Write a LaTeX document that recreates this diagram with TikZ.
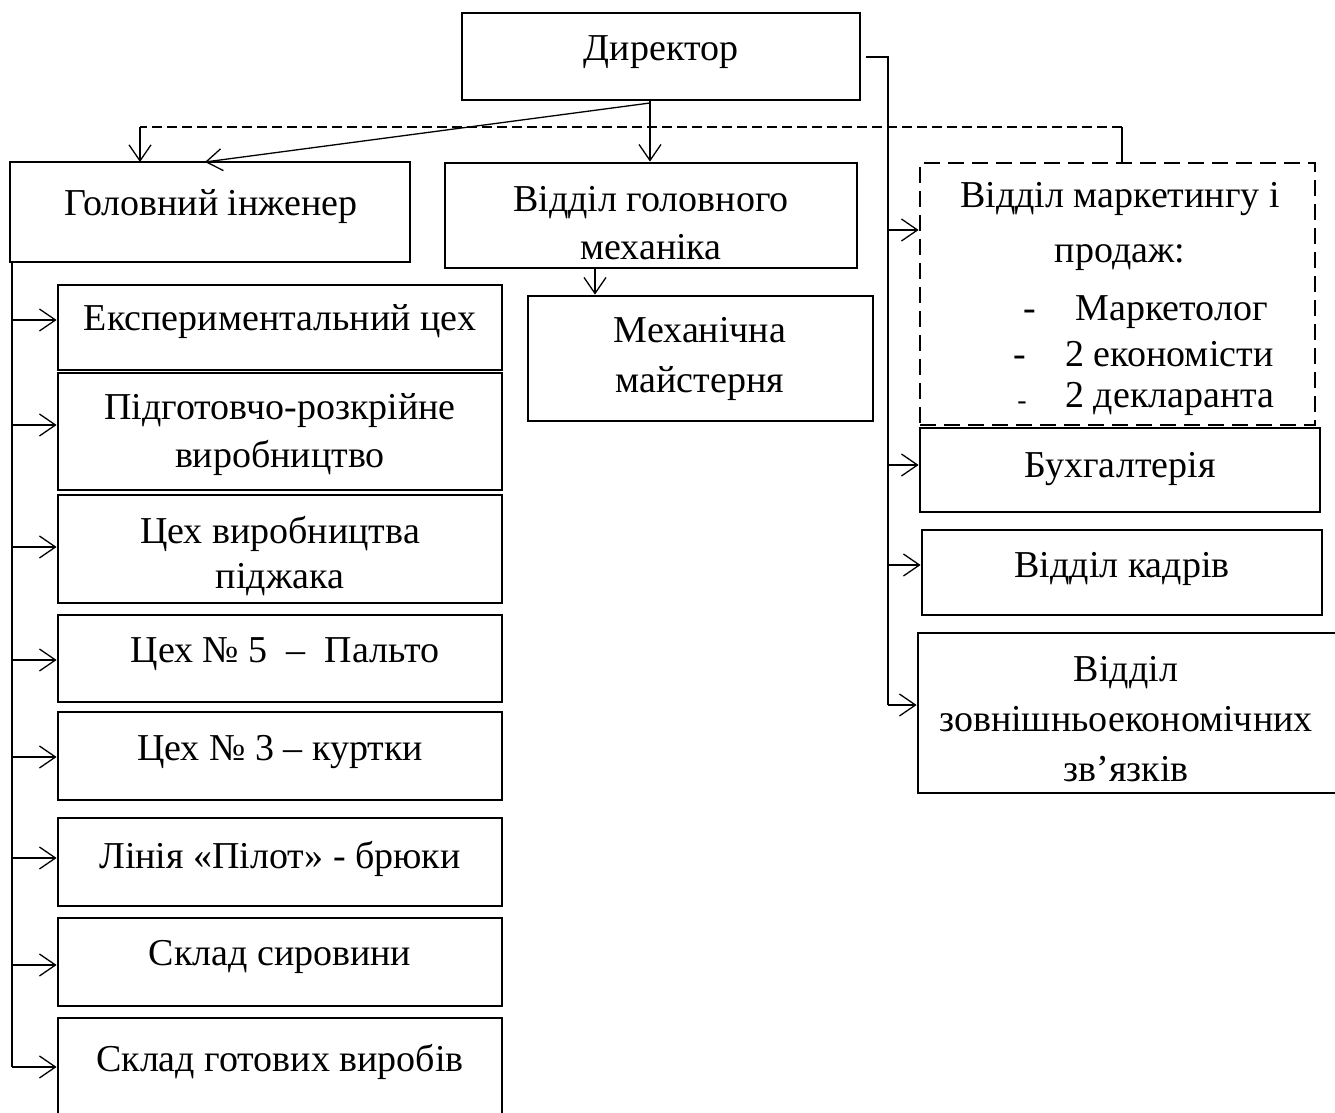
\documentclass[tikz,border=0pt]{standalone}
\usepackage{fontspec}
\setmainfont{Liberation Serif}
\usetikzlibrary{fit,arrows.meta}
\begin{document}
\begin{tikzpicture}[x=0.5pt,y=-0.5pt,
  box/.style={draw,line width=1.4pt,inner sep=0pt,fit={#1}},
  dbox/.style={draw,line width=1.4pt,dash pattern=on 8pt off 4pt,inner sep=0pt,fit={#1}},
  txt/.style={inner sep=0pt,align=center,font=\fontsize{19}{24}\selectfont},
  conn/.style={line width=0.65pt},
  arr/.style={line width=0.65pt,-{Straight Barb[length=8pt,width=11pt,line width=0.65pt]}},
  dconn/.style={line width=0.65pt,dash pattern=on 5pt off 2.5pt}]
\useasboundingbox (0,0) rectangle (1335,1113);
% boxes
\node[box={(462,13) (860,100)}] (dir) {};
\node[box={(10,162) (410,262)}] (gi) {};
\node[box={(445,163) (857,268)}] (gm) {};
\node[dbox={(920,163) (1315,425)}] (mk) {};
\node[box={(920,428) (1320,512)}] (bu) {};
\node[box={(922,530) (1322,615)}] (kd) {};
\node[box={(918,633) (1345,793)}] (zv) {};
\node[box={(528,296) (873,421)}] (mm) {};
\node[box={(58,285) (502,370)}] (l1) {};
\node[box={(58,373) (502,490)}] (l2) {};
\node[box={(58,495) (502,603)}] (l3) {};
\node[box={(58,615) (502,702)}] (l4) {};
\node[box={(58,712) (502,800)}] (l5) {};
\node[box={(58,818) (502,906)}] (l6) {};
\node[box={(58,918) (502,1006)}] (l7) {};
\node[box={(58,1018) (502,1125)}] (l8) {};
% texts
\node[txt] (tdir) at (661,52) {Директор};
\node[txt] (tgi) at (211,207) {Головний інженер};
\node[txt] (tgm) at (651,223) {Відділ головного\\механіка};
\node[txt,font=\fontsize{19}{27.5}\selectfont] (tmk) at (1120,226) {Відділ маркетингу і\\продаж:};
\node[txt,anchor=base] (mkd1) at (1030,321) {-};
\node[txt,anchor=base west] (mki1) at (1075,321) {Маркетолог};
\node[txt,anchor=base] (mkd2) at (1020,366) {-};
\node[txt,anchor=base west] (mki2) at (1065,366) {2 економісти};
\node[txt,anchor=base,font=\fontsize{14}{16}\selectfont] (mkd3) at (1022,409) {-};
\node[txt,anchor=base west] (mki3) at (1065,408) {2 декларанта};
\node[txt,font=\fontsize{19}{25}\selectfont] (tmm) at (700,359) {Механічна\\майстерня};
\node[txt] (tbu) at (1120,469) {Бухгалтерія};
\node[txt] (tkd) at (1122,569) {Відділ кадрів};
\node[txt,font=\fontsize{19}{25}\selectfont] (tzv) at (1126,719) {Відділ\\зовнішньоекономічних\\зв’язків};
\node[txt] (tl1) at (280,322) {Експериментальний цех};
\node[txt] (tl2) at (280,435) {Підготовчо-розкрійне\\виробництво};
\node[txt,font=\fontsize{19}{22.5}\selectfont] (tl3) at (280,556) {Цех виробництва\\піджака};
\node[txt] (tl4) at (285,654) {Цех № 5 \ – \ Пальто};
\node[txt] (tl5) at (280,752) {Цех № 3 – куртки};
\node[txt] (tl6) at (280,859) {Лінія «Пілот» - брюки};
\node[txt] (tl7) at (280,957) {Склад сировини};
\node[txt] (tl8) at (280,1062) {Склад готових виробів};
% top connectors
\coordinate (ap) at (650,103);
\coordinate (gt) at (205,162);
\draw[conn] (dir.south -| ap) -- (ap);
\draw[arr] (ap) -- (ap |- gm.north);
\draw[arr] (ap) -- (gt);
\coordinate (d1) at (1122,127);
\coordinate (d2) at (140,127);
\coordinate (d3) at (140,162);
\draw[conn] (mk.north -| d1) -- (d1);
\draw[dconn] (d1) -- (d2);
\draw[arr] (d2) -- (d3);
% mech
\coordinate (mt) at (595,268);
\draw[arr] (mt) -- (mt |- mm.north);
% right trunk
\coordinate (r0) at (866,57);
\coordinate (r1) at (888,57);
\coordinate (rb) at (888,705);
\draw[conn] (r0) -- (r1) -- (rb);
\coordinate (ra) at (888,230);
\coordinate (rc) at (888,465);
\coordinate (rd) at (888,565);
\draw[arr] (ra) -- (ra -| mk.west);
\draw[arr] (rc) -- (rc -| bu.west);
\draw[arr] (rd) -- (rd -| kd.west);
\draw[arr] (rb) -- (rb -| zv.west);
% left trunk
\coordinate (lt) at (12,262);
\coordinate (lb) at (12,1067);
\draw[conn] (lt) -- (lb);
\foreach \yy/\bb in {320/l1,425/l2,547/l3,660/l4,757/l5,858/l6,965/l7} {
  \coordinate (la\bb) at (12,\yy);
  \draw[arr] (la\bb) -- (la\bb -| \bb.west);
}
\draw[arr] (lb) -- (lb -| l8.west);
\end{tikzpicture}
\end{document}
